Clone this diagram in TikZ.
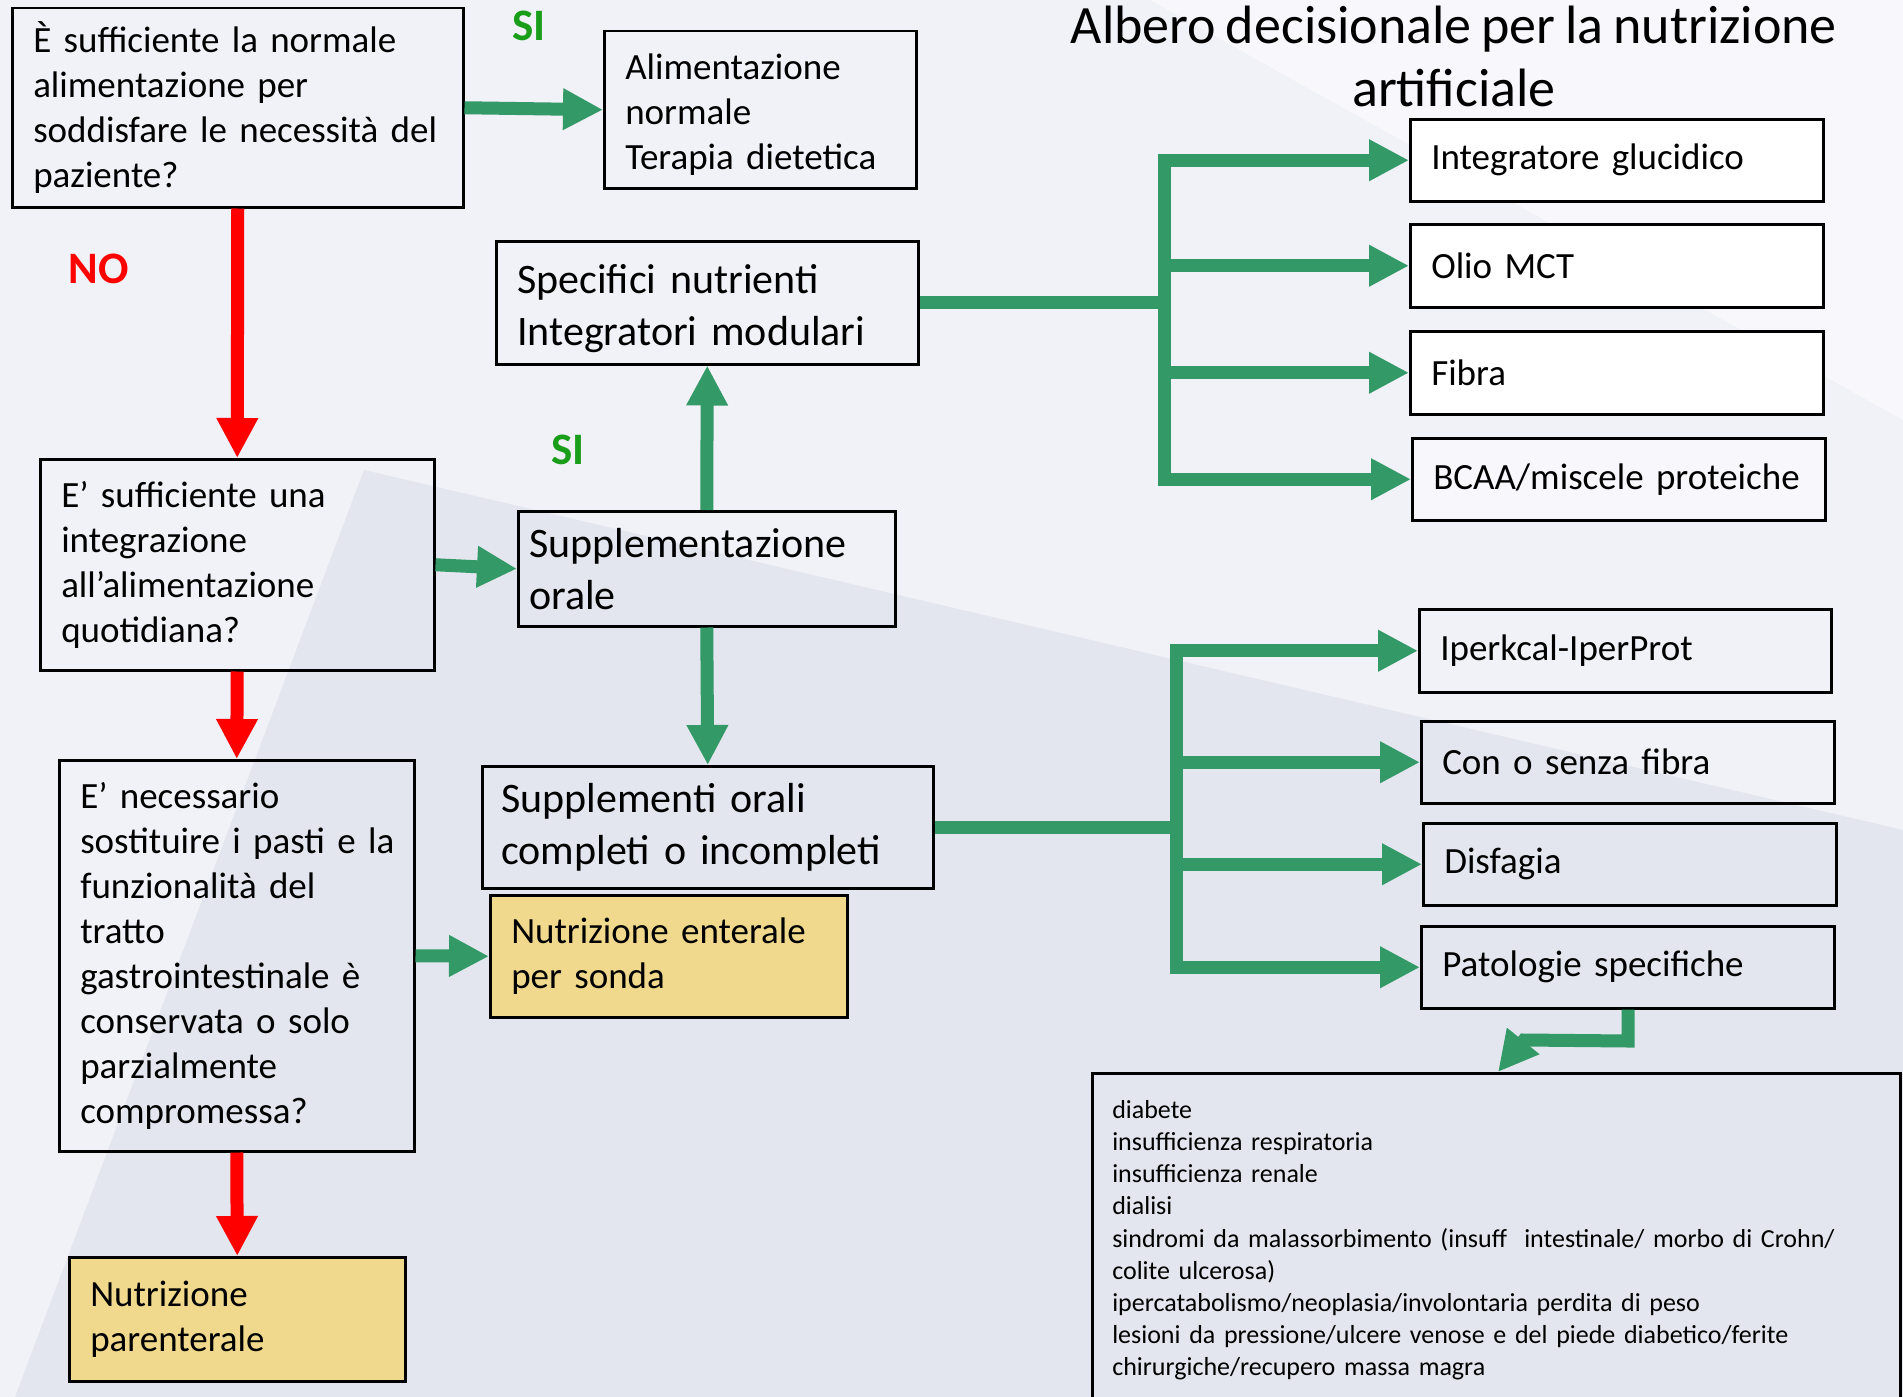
\documentclass[tikz,border=0pt]{standalone}
\usepackage{fontspec}
\setmainfont{Carlito}[WordSpace=0.8]
\usetikzlibrary{arrows.meta}
\definecolor{arrowgreen}{HTML}{339966}
\definecolor{arrowred}{HTML}{FF0000}
\definecolor{labelgreen}{HTML}{1A9E1A}
\definecolor{boxyellow}{HTML}{F0D98C}
\definecolor{bgbase}{HTML}{F1F1F8}
\definecolor{bglight}{HTML}{F7F7FC}
\definecolor{bgdark}{HTML}{E3E6EE}
\tikzset{
  every picture/.style={line join=miter, x=1pt, y=-1pt},
  box/.style={draw=black, line width=2.5pt, anchor=north west, align=left, inner xsep=21pt, inner ysep=0pt, font=\fontsize{37}{45}\selectfont},
  bigbox/.style={box, font=\fontsize{42}{52}\selectfont},
  yesno/.style={inner sep=0pt, font=\fontsize{45}{45}\selectfont\bfseries},
  garrow/.style={draw=arrowgreen, line width=13pt, -{Triangle[length=40pt,width=39pt]}},
  rarrow/.style={draw=arrowred, line width=13pt, -{Triangle[length=40pt,width=39pt]}},
  gline/.style={draw=arrowgreen, line width=13pt},
}

\begin{document}
\begin{tikzpicture}
\useasboundingbox (0,0) rectangle (1903,1397);
\clip (0,0) rectangle (1903,1397);
% background
\fill[bgbase] (0,0) rectangle (1903,1397);
\fill[bglight] (1150,0) -- (1903,0) -- (1903,420) -- cycle;
\fill[bgdark] (364,470) -- (1903,830) -- (1903,1397) -- (15,1397) -- cycle;

\node[anchor=north, align=center, inner sep=0pt, font=\fontsize{54}{63}\selectfont] (title) at (1454,6) {Albero decisionale per la nutrizione\\artificiale};

% left column: questions
\node[box, text width=409pt, minimum height=199pt] (q1) at (11,7) {È sufficiente la normale\\alimentazione per\\\mbox{soddisfare le necessità del}\\paziente?};
\node[box, text width=352pt, minimum height=211pt] (q2) at (39,458) {E’ sufficiente una\\integrazione\\all’alimentazione\\quotidiana?};
\node[box, text width=313pt, minimum height=391pt] (q3) at (58,759) {E’ necessario\\\mbox{sostituire i pasti e la}\\funzionalità del\\tratto\\\mbox{gastrointestinale è}\\conservata o solo\\parzialmente\\compromessa?};
\node[box, fill=boxyellow, text width=294pt, minimum height=124pt] (paren) at (68,1256) {Nutrizione\\parenterale};

% middle column
\node[box, text width=270pt, minimum height=157pt] (alim) at (603,30) {\rule{0pt}{35pt}Alimentazione\\normale\\Terapia dietetica};
\node[bigbox, text width=380pt, minimum height=123pt] (spec) at (495,240) {\rule{0pt}{40pt}Specifici nutrienti\\Integratori modulari};
\node[bigbox, inner xsep=11pt, text width=355pt, minimum height=115pt] (suppl) at (517,510) {Supplementazione\\orale};
\node[bigbox, inner xsep=19pt, text width=413pt, minimum height=122pt] (suppor) at (481,765) {Supplementi orali\\\mbox{completi o incompleti}};
\node[box, fill=boxyellow, text width=315pt, minimum height=122pt] (enter) at (489,894) {\mbox{Nutrizione enterale}\\per sonda};

% yes / no
\node[yesno, text=labelgreen] (si1) at (529,26) {SI};
\node[yesno, text=arrowred] (no1) at (99,269) {NO};
\node[yesno, text=labelgreen] (si2) at (568,450) {SI};

% right column: modular supplements
\node[box, fill=white, text width=371pt, minimum height=82pt] (glu) at (1409,118) {Integratore glucidico};
\node[box, fill=white, text width=371pt, minimum height=83pt] (mct) at (1409,223) {Olio MCT};
\node[box, fill=white, text width=371pt, minimum height=83pt] (fib) at (1409,330) {Fibra};
\node[box, fill=bglight, text width=371pt, minimum height=82pt] (bcaa) at (1411,437) {BCAA/miscele proteiche};

% right column: oral supplements
\node[box, text width=370pt, minimum height=83pt] (iper) at (1418,608) {Iperkcal-IperProt};
\node[box, text width=371pt, minimum height=82pt] (confib) at (1420,720) {Con o senza fibra};
\node[box, text width=371pt, minimum height=82pt] (disf) at (1422,822) {Disfagia};
\node[box, text width=371pt, minimum height=82pt] (pato) at (1420,925) {Patologie specifiche};

\node[draw=black, line width=2.5pt, anchor=north west, align=left, inner xsep=20pt, inner ysep=0pt, text width=768pt, minimum height=334pt, font=\fontsize{26}{32.2}\selectfont] (list) at (1091,1072) {diabete\\insufficienza respiratoria\\insufficienza renale\\dialisi\\sindromi da malassorbimento (insuff\ \ intestinale/ morbo di Crohn/\\colite ulcerosa)\\ipercatabolismo/neoplasia/involontaria perdita di peso\\lesioni da pressione/ulcere venose e del piede diabetico/ferite\\chirurgiche/recupero massa magra};

% decision arrows
\draw[garrow] (q1.east) -- (alim.west);
\draw[rarrow] (q1.south) -- (q2.north);
\draw[garrow] (q2.east) -- (suppl.west);
\draw[garrow] (suppl.north) -- (spec.south);
\draw[garrow] (suppl.south) -- (suppor.north);
\draw[rarrow] (q2.south) -- (q3.north);
\draw[garrow] (q3.east) -- (enter.west);
\draw[rarrow] (q3.south) -- (paren.north);

% branching
\coordinate (ja) at (1164,0 |- spec.east);
\coordinate (jb) at (1176,0 |- suppor.east);
\draw[gline] (spec.east) -- (ja);
\draw[gline, line cap=rect] (ja |- glu.west) -- (ja |- bcaa.west);
\foreach \b in {glu,mct,fib,bcaa} \draw[garrow] (ja |- \b.west) -- (\b.west);
\draw[gline] (suppor.east) -- (jb);
\draw[gline, line cap=rect] (jb |- iper.west) -- (jb |- pato.west);
\foreach \b in {iper,confib,disf,pato} \draw[garrow] (jb |- \b.west) -- (\b.west);

\coordinate (pb1) at (1628,1041);
\coordinate (pb2) at (1524,1040);
\coordinate (listtip) at (1498,1072);
\draw[garrow] (pb1 |- pato.south) -- (pb1) -- (pb2) -- (listtip);
\end{tikzpicture}
\end{document}
